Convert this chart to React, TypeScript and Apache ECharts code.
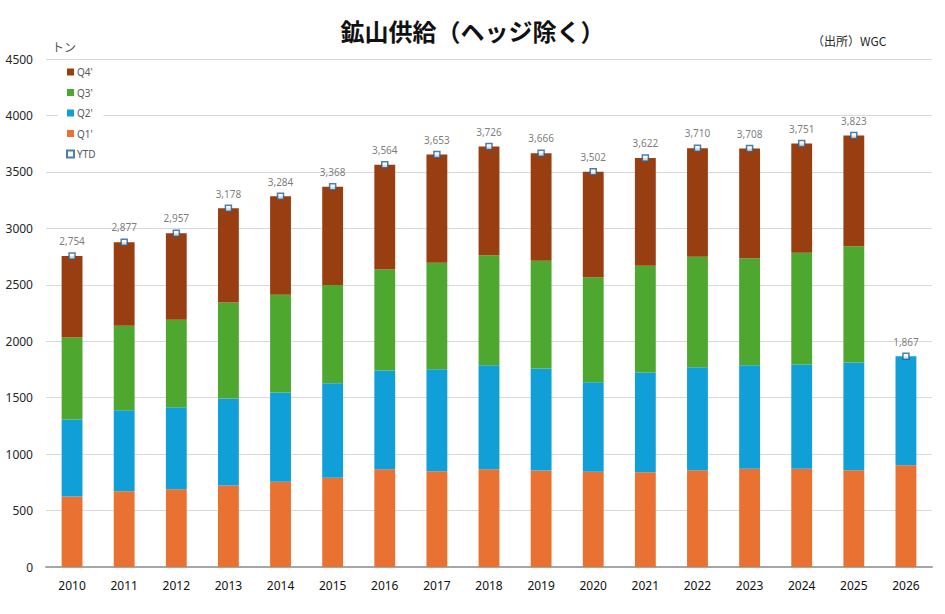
import React, { useEffect, useRef } from "react";
import * as echarts from "echarts";

const years = ["2010","2011","2012","2013","2014","2015","2016","2017","2018","2019","2020","2021","2022","2023","2024","2025","2026"];
const q1 = [625, 671, 689, 722, 755, 790, 866, 849, 866, 855, 843, 840, 858, 870, 870, 858, 902];
const q2 = [682, 718, 727, 771, 791, 838, 875, 903, 922, 904, 794, 883, 912, 918, 924, 954, 965];
const q3 = [726, 748, 774, 850, 865, 869, 895, 943, 974, 954, 930, 945, 978, 948, 989, 1030, null];
const q4 = [721, 740, 767, 835, 873, 871, 928, 958, 964, 953, 935, 954, 962, 972, 968, 981, null];
const ytd = [2754, 2877, 2957, 3178, 3284, 3368, 3564, 3653, 3726, 3666, 3502, 3622, 3710, 3708, 3751, 3823, 1867];
const yTicks = { min: 0, max: 4500, interval: 500 };

const FONT = "'Noto Sans', 'Noto Sans CJK JP', sans-serif";

export default function App() {
  const ref = useRef<HTMLDivElement>(null);
  useEffect(() => {
    document.body.style.margin = "0";
    const chart = echarts.init(ref.current!, undefined, { renderer: "svg" });
    const barBase = { type: "bar" as const, stack: "total", barWidth: "40%" };
    chart.setOption({
      animation: false,
      backgroundColor: "#ffffff",
      textStyle: { fontFamily: FONT },
      title: {
        text: "鉱山供給（ヘッジ除く）",
        left: "center",
        top: 13,
        textStyle: { fontFamily: "'Noto Sans CJK JP', sans-serif", fontSize: 24, fontWeight: "bold", color: "#111" },
      },
      graphic: [
        { type: "text", left: 52, top: 40, style: { text: "トン", fontSize: 12, fill: "#595959", fontFamily: "'Noto Sans CJK JP', sans-serif" } },
        { type: "text", left: 812, top: 34, style: { text: "（出所）WGC", fontSize: 12, fill: "#262626", fontFamily: "'Noto Sans CJK JP', sans-serif" } },
      ],
      legend: {
        orient: "vertical",
        left: 58,
        top: 61,
        padding: [5, 8, 5, 8],
        backgroundColor: "#ffffff",
        itemWidth: 7,
        itemHeight: 7,
        itemGap: 8.5,
        selectedMode: false,
        textStyle: { fontSize: 10, color: "#595959", lineHeight: 12, padding: [0, 0, 0, -2] },
        data: [
          { name: "Q4'", icon: "rect" },
          { name: "Q3'", icon: "rect" },
          { name: "Q2'", icon: "rect" },
          { name: "Q1'", icon: "rect" },
          { name: "YTD", icon: "rect" },
        ],
      },
      grid: { left: 46, right: 13, top: 59, bottom: 47 },
      xAxis: {
        type: "category",
        data: years,
        axisTick: { show: false },
        axisLine: { lineStyle: { color: "#a6a6a6", width: 2 } },
        axisLabel: { fontSize: 12, color: "#111111", margin: 12 },
      },
      yAxis: {
        type: "value",
        min: yTicks.min,
        max: yTicks.max,
        interval: yTicks.interval,
        axisLabel: { fontSize: 12, color: "#262626", margin: 13, formatter: (v: number) => String(v) },
        splitLine: { lineStyle: { color: "#d9d9d9", width: 1 } },
        axisLine: { show: false },
        axisTick: { show: false },
      },
      series: [
        { ...barBase, name: "Q1'", data: q1, itemStyle: { color: "#e97132" } },
        { ...barBase, name: "Q2'", data: q2, itemStyle: { color: "#109fd6" } },
        { ...barBase, name: "Q3'", data: q3, itemStyle: { color: "#4ea72e" } },
        { ...barBase, name: "Q4'", data: q4, itemStyle: { color: "#983e11" } },
        {
          type: "scatter",
          name: "YTD",
          data: ytd,
          symbol: "rect",
          symbolSize: 6,
          z: 5,
          itemStyle: { color: "#ffffff", borderColor: "#215f9a", borderWidth: 1.5 },
          label: {
            show: true,
            position: "top",
            distance: 6,
            fontSize: 10,
            color: "#595959",
            formatter: (p: any) => Number(p.value).toLocaleString("en-US"),
          },
        },
      ],
    });
    return () => chart.dispose();
  }, []);
  return <div ref={ref} style={{ width: 945, height: 614, position: "absolute", left: 0, top: 0 }} />;
}
